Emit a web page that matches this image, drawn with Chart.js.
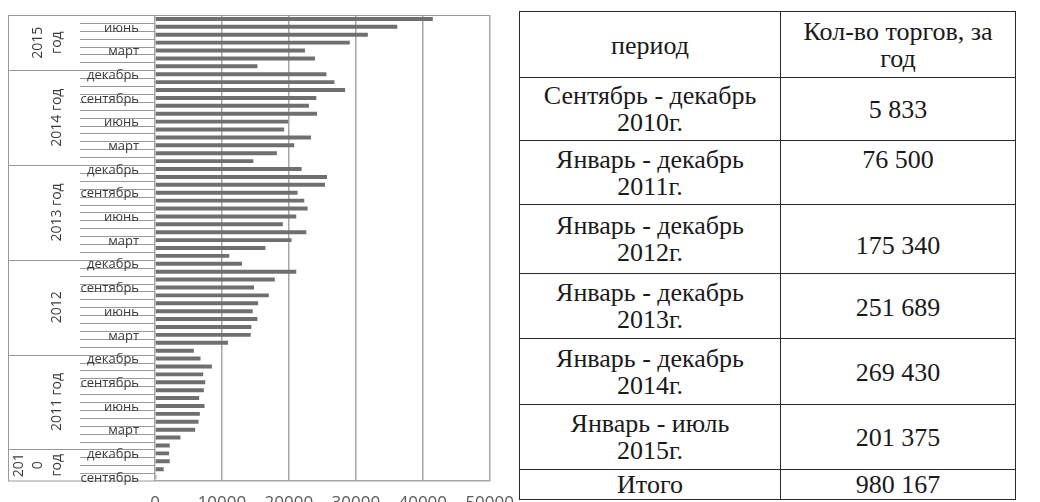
<!DOCTYPE html>
<html>
<head>
<meta charset="utf-8">
<script src="https://cdn.jsdelivr.net/npm/chart.js@4.4.1/dist/chart.umd.min.js"></script>
<style>
  html, body { margin: 0; padding: 0; background: #fff; width: 1040px; height: 502px; overflow: hidden; }
  #chartBox { position: absolute; left: 0; top: 0; width: 526px; height: 520px; }
  table.t { position: absolute; left: 519px; top: 11px; width: 497px; border-collapse: collapse; background: #fff;
    font-family: "Liberation Serif", "Times New Roman", serif; font-size: 26px; line-height: 27px; color: #1a1a1a; }
  table.t td { border: 1.5px solid #2a2a2a; text-align: center; padding: 0 2px; }
  td.c1 { width: 256px; }
</style>
</head>
<body>
<div id="chartBox"><canvas id="c" width="526" height="520"></canvas></div>
<table class="t" id="tbl"></table>
<script>
// ---- chart data ----
const monthNames = ['январь','февраль','март','апрель','май','июнь','июль','август','сентябрь','октябрь','ноябрь','декабрь'];
const groupStartMonth = [8, 0, 0, 0, 0, 0];
const yearLabels = [['201','0','год'], ['2011 год'], ['2012'], ['2013 год'], ['2014 год'], ['2015','год']];
const trades2010 = [200, 1300, 2200, 2100];
const trades2011 = [2200, 3800, 6000, 6500, 6700, 7400, 6600, 7300, 7500, 7200, 8500, 6800];
const trades2012 = [5800, 10900, 14300, 14400, 15300, 14600, 15400, 17000, 14800, 17900, 21100, 13000];
const trades2013 = [11100, 16500, 20400, 22600, 19100, 21100, 22800, 22300, 21300, 25400, 25700, 21900];
const trades2014 = [14700, 18200, 20800, 23300, 19300, 19900, 24200, 23000, 24100, 28400, 26800, 25600];
const trades2015 = [15300, 23900, 22400, 29100, 31800, 36200, 41500];
const xTickValues = [0, 10000, 20000, 30000, 40000, 50000];

// ---- table data ----
const tableHeader = [['период'], ['Кол-во торгов, за', 'год']];
const tablePeriods = [['Сентябрь - декабрь','2010г.'], ['Январь - декабрь','2011г.'], ['Январь - декабрь','2012г.'],
  ['Январь - декабрь','2013г.'], ['Январь - декабрь','2014г.'], ['Январь - июль','2015г.'], ['Итого']];
const tableCounts = ['5 833', '76 500', '175 340', '251 689', '269 430', '201 375', '980 167'];
const rowHeights = [66, 63, 64, 69, 65, 66, 65, 30];
const countValign = ['middle', 'top', 'middle', 'middle', 'middle', 'middle', 'middle'];
const countPadTop = [0, 5, 12, 2, 2, 0, 0];

// build table
const tbl = document.getElementById('tbl');
function addRow(cells, h, valigns, padTops) {
  const tr = document.createElement('tr');
  tr.style.height = h + 'px';
  cells.forEach((lines, k) => {
    const td = document.createElement('td');
    if (k === 0) td.className = 'c1';
    td.style.verticalAlign = valigns[k];
    td.style.paddingTop = padTops[k] + 'px';
    lines.forEach((ln, j) => {
      if (j) td.appendChild(document.createElement('br'));
      td.appendChild(document.createTextNode(ln));
    });
    tr.appendChild(td);
  });
  tbl.appendChild(tr);
}
addRow(tableHeader, rowHeights[0], ['middle', 'middle'], [2, 0]);
tablePeriods.forEach((p, i) => addRow([p, [tableCounts[i]]], rowHeights[i + 1], ['middle', countValign[i]], [0, countPadTop[i]]));

// build categories
const groups = [trades2010, trades2011, trades2012, trades2013, trades2014, trades2015];
const categories = [], values = [], groupOf = [];
groups.forEach((arr, g) => {
  arr.forEach((v, k) => {
    categories.push(monthNames[(groupStartMonth[g] + k) % 12]);
    values.push(v);
    groupOf.push(g);
  });
});

const FONT = '"Open Sans", "Noto Sans", sans-serif';
const multiLevelAxis = {
  id: 'multiLevelAxis',
  afterDraw(chart) {
    const ctx = chart.ctx, ca = chart.chartArea, y = chart.scales.y;
    const xLeft = 8, xInner = 80;
    ctx.save();
    ctx.strokeStyle = '#999999';
    ctx.lineWidth = 1;
    ctx.beginPath();
    ctx.moveTo(xLeft, ca.top + 0.5); ctx.lineTo(ca.right, ca.top + 0.5);
    ctx.moveTo(xLeft + 0.5, ca.top); ctx.lineTo(xLeft + 0.5, ca.bottom);
    ctx.moveTo(xLeft, ca.bottom); ctx.lineTo(ca.left, ca.bottom);
    for (let i = 0; i < categories.length - 1; i++) {
      const yy = Math.round((y.getPixelForValue(i) + y.getPixelForValue(i + 1)) / 2) + 0.5;
      const x0 = groupOf[i] !== groupOf[i + 1] ? xLeft : xInner;
      ctx.moveTo(x0, yy); ctx.lineTo(ca.left, yy);
    }
    ctx.stroke();
    // month labels
    ctx.fillStyle = '#3a3a3a';
    ctx.font = '13px ' + FONT;
    ctx.textAlign = 'right';
    ctx.textBaseline = 'middle';
    categories.forEach((c, i) => {
      if (i % 3 === 0) ctx.fillText(c, 139, y.getPixelForValue(i) + 1);
    });
    // year group labels
    ctx.font = '14px ' + FONT;
    ctx.textAlign = 'center';
    let start = 0;
    groups.forEach((arr, g) => {
      const end = start + arr.length - 1;
      const yc = (y.getPixelForValue(start) + y.getPixelForValue(end)) / 2;
      const lines = yearLabels[g];
      lines.forEach((ln, j) => {
        const xc = 57 - (lines.length - 1 - j) * 19;
        ctx.save();
        ctx.translate(xc, yc);
        ctx.rotate(-Math.PI / 2);
        ctx.fillText(ln, 0, 0);
        ctx.restore();
      });
      start = end + 1;
    });
    ctx.restore();
  }
};

new Chart(document.getElementById('c'), {
  type: 'bar',
  data: {
    labels: categories,
    datasets: [{ data: values, backgroundColor: '#6f6f6f', borderWidth: 0, categoryPercentage: 1, barPercentage: 0.5 }]
  },
  options: {
    indexAxis: 'y',
    responsive: false,
    animation: false,
    devicePixelRatio: 1,
    layout: { padding: { left: 155, right: 25, top: 15, bottom: 0 } },
    plugins: { legend: { display: false }, tooltip: { enabled: false } },
    scales: {
      x: {
        min: 0, max: 50000,
        afterBuildTicks: s => { s.ticks = xTickValues.map(v => ({ value: v })); },
        afterFit: s => { s.height = 39; },
        grid: { color: '#a6a6a6', lineWidth: 1.5, drawTicks: false },
        border: { color: '#a6a6a6', width: 1.5 },
        ticks: { padding: 12, autoSkip: false, maxRotation: 0, color: '#595959', font: { family: FONT, size: 17 }, callback: v => String(v) }
      },
      y: { display: false, reverse: true }
    }
  },
  plugins: [multiLevelAxis]
});
</script>
</body>
</html>
